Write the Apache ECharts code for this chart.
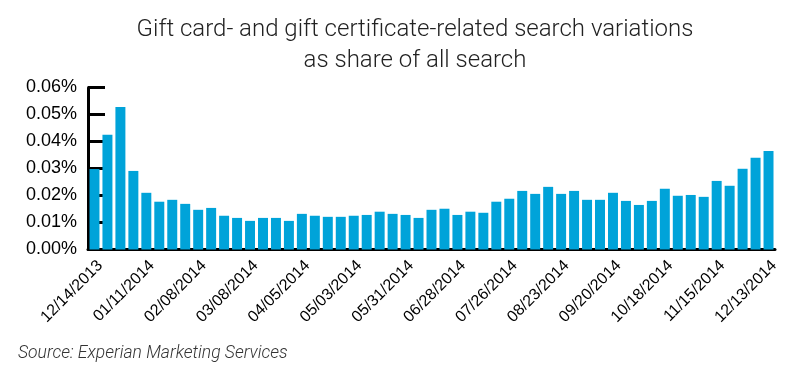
<!DOCTYPE html>
<html><head><meta charset="utf-8">
<script src="https://cdn.jsdelivr.net/npm/echarts@6/dist/echarts.min.js"></script>
<style>html,body{margin:0;padding:0;background:#fff}#c{width:800px;height:374px}</style>
</head><body><div id="c"></div>
<script>
const titleText = 'Gift card- and gift certificate-related search variations\nas share of all search';
const sourceText = 'Source: Experian Marketing Services';
const weeks = ['12/14/2013','12/21/2013','12/28/2013','01/04/2014','01/11/2014','01/18/2014','01/25/2014','02/01/2014','02/08/2014','02/15/2014','02/22/2014','03/01/2014','03/08/2014','03/15/2014','03/22/2014','03/29/2014','04/05/2014','04/12/2014','04/19/2014','04/26/2014','05/03/2014','05/10/2014','05/17/2014','05/24/2014','05/31/2014','06/07/2014','06/14/2014','06/21/2014','06/28/2014','07/05/2014','07/12/2014','07/19/2014','07/26/2014','08/02/2014','08/09/2014','08/16/2014','08/23/2014','08/30/2014','09/06/2014','09/13/2014','09/20/2014','09/27/2014','10/04/2014','10/11/2014','10/18/2014','10/25/2014','11/01/2014','11/08/2014','11/15/2014','11/22/2014','11/29/2014','12/06/2014','12/13/2014'];
const sharePct = [0.0298,0.0425,0.0528,0.0291,0.0210,0.0177,0.0184,0.0169,0.0147,0.0154,0.0125,0.0117,0.0106,0.0117,0.0117,0.0106,0.0132,0.0125,0.0121,0.0121,0.0125,0.0128,0.0140,0.0132,0.0128,0.0117,0.0147,0.0151,0.0128,0.0140,0.0136,0.0177,0.0188,0.0217,0.0206,0.0232,0.0206,0.0217,0.0184,0.0184,0.0210,0.0180,0.0165,0.0180,0.0225,0.0199,0.0202,0.0195,0.0254,0.0236,0.0299,0.0340,0.0365];
const yTicks = {min: 0, max: 0.06, interval: 0.01};

const chart = echarts.init(document.getElementById('c'), null, {renderer: 'canvas'});
chart.setOption({
  backgroundColor: '#fff',
  animation: false,
  title: {
    text: titleText, left: 410, textAlign: 'center', top: 9,
    textStyle: {fontFamily: 'Roboto', fontWeight: 300, fontSize: 24, lineHeight: 31, color: '#222'}
  },
  graphic: [{
    type: 'text', left: 18, top: 345,
    style: {text: sourceText, fontFamily: 'Roboto', fontStyle: 'italic', fontWeight: 300, fontSize: 17.5, fill: '#333'}
  }],
  grid: {left: 88, right: 25, top: 87.5, bottom: 124.5, containLabel: false},
  xAxis: {
    type: 'category', data: weeks, boundaryGap: true,
    axisLine: {lineStyle: {color: '#000', width: 3}},
    axisTick: {show: false},
    axisLabel: {interval: 3, rotate: 45, fontFamily: 'Liberation Sans', fontSize: 16, color: '#000', margin: 8,
      align: 'right', verticalAlign: 'top'}
  },
  yAxis: {
    type: 'value', min: yTicks.min, max: yTicks.max, interval: yTicks.interval,
    axisLine: {show: true, lineStyle: {color: '#000', width: 3}},
    axisTick: {show: true, inside: true, length: 17, lineStyle: {color: '#000', width: 3}},
    splitLine: {show: false},
    axisLabel: {fontFamily: 'Liberation Sans', fontSize: 18, color: '#000', margin: 11,
      formatter: v => v.toFixed(2) + '%'}
  },
  series: [{
    type: 'bar', data: sharePct, barCategoryGap: '23%',
    itemStyle: {color: '#00A3D9'}
  }]
});
</script></body></html>
